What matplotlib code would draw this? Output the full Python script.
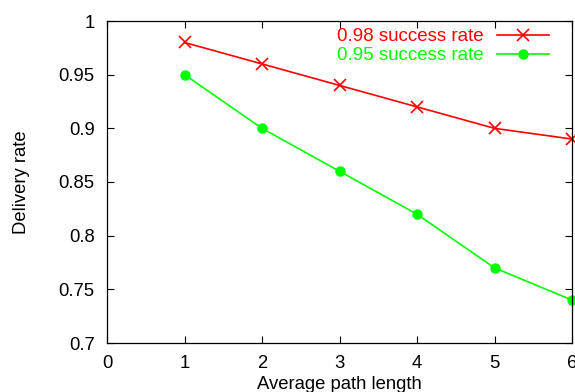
import matplotlib
matplotlib.use('Agg')
import matplotlib.pyplot as plt

plt.rcParams['font.family'] = ['Liberation Sans', 'DejaVu Sans']

# Datos
longitud = [1, 2, 3, 4, 5, 6]
tasa_098 = [0.98, 0.96, 0.94, 0.92, 0.90, 0.89]
tasa_095 = [0.95, 0.90, 0.86, 0.82, 0.77, 0.74]

fig = plt.figure(figsize=(5.75, 3.92), dpi=100)
ax = fig.add_axes([107/575, 1 - 343/392, (572 - 107)/575, (343 - 21)/392])

ax.plot(longitud, tasa_098, color='#ff0000', marker='x', markersize=8,
        markeredgewidth=1.2, linewidth=1.2, label='0.98 success rate', clip_on=False)
ax.plot(longitud, tasa_095, color='#00ff00', marker='o', markersize=6.5,
        linewidth=1.2, label='0.95 success rate', clip_on=False)

ax.set_xlim(0, 6)
ax.set_ylim(0.7, 1)
ax.set_xticks([0, 1, 2, 3, 4, 5, 6])
ax.set_yticks([0.7, 0.75, 0.8, 0.85, 0.9, 0.95, 1])
ax.set_yticklabels(['0.7', '0.75', '0.8', '0.85', '0.9', '0.95', '1'])
ax.tick_params(direction='in', top=True, right=True, length=5, labelsize=13.3, pad=9)
for s in ax.spines.values():
    s.set_linewidth(0.9)

ax.set_xlabel('Average path length', fontsize=13.3)
ax.xaxis.set_label_coords(0.5, -0.103)
ax.set_ylabel('Delivery rate', fontsize=13.3)
ax.yaxis.set_label_coords(-0.166, 0.5)

leg = ax.legend(loc='upper right', frameon=False, markerfirst=False,
                labelcolor='linecolor', fontsize=13.5, handlelength=2.8,
                borderpad=0, borderaxespad=0,
                bbox_to_anchor=((549 - 107)/465, 1 - 7/322),
                labelspacing=0.1, handletextpad=0.7)

fig.savefig('out.png', dpi=100)
